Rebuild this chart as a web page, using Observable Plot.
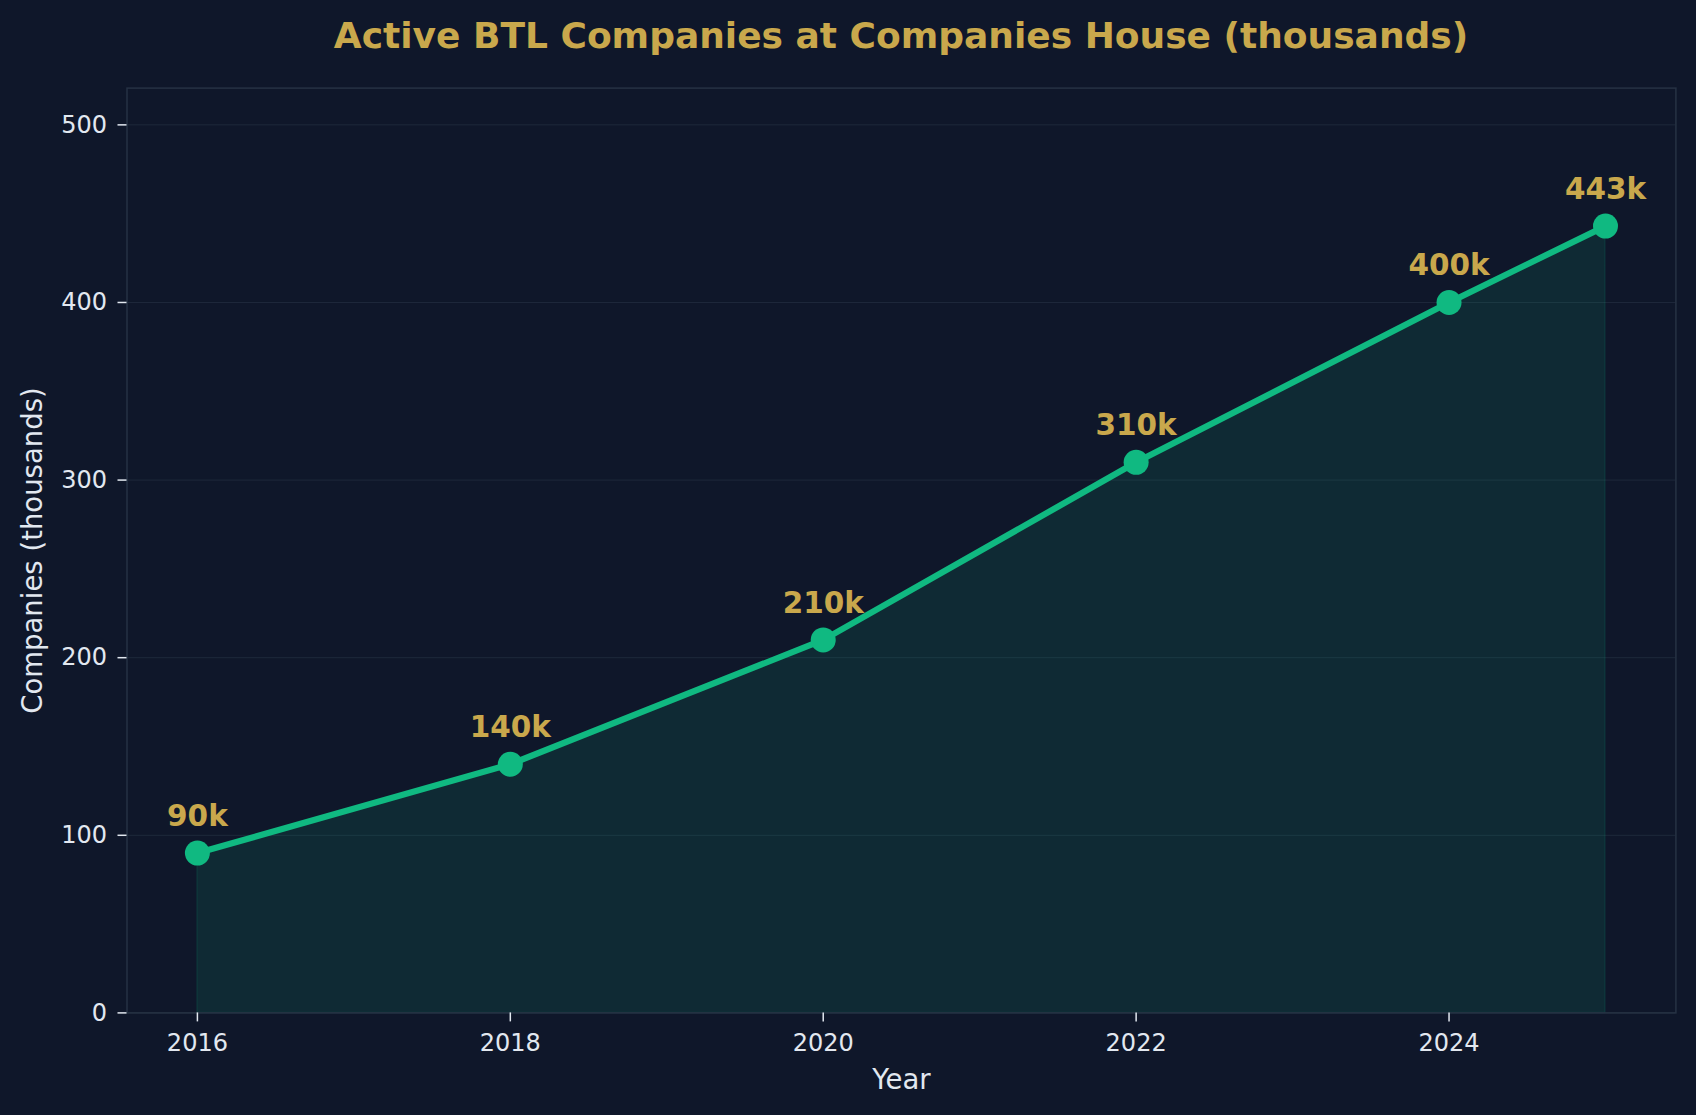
<!DOCTYPE html>
<html>
<head>
<meta charset="utf-8">
<script src="https://cdn.jsdelivr.net/npm/d3@7"></script>
<script src="https://cdn.jsdelivr.net/npm/@observablehq/plot@0.6"></script>
<style>
  html, body { margin: 0; padding: 0; background: #0f172a; width: 1696px; height: 1115px; overflow: hidden; }
  #wrap { position: relative; width: 1696px; height: 1115px; }
  #title { position: absolute; left: 126.5px; width: 1549px; top: 18px; text-align: center;
    font-family: "DejaVu Sans", sans-serif; font-weight: bold; font-size: 36px; line-height: 36px; color: #c9a84c; }
  #chart { position: absolute; left: 0; top: 0; }
</style>
</head>
<body>
<div id="wrap">
  <div id="chart"></div>
  <div id="title">Active BTL Companies at Companies House (thousands)</div>
</div>
<script>
const years = [2016, 2018, 2020, 2022, 2024, 2025];
const companies = [90, 140, 210, 310, 400, 443];
const xTicks = [2016, 2018, 2020, 2022, 2024];
const yTicks = [0, 100, 200, 300, 400, 500];
const xLabel = "Year";
const yLabel = "Companies (thousands)";

const data = years.map((y, i) => ({year: y, value: companies[i]}));

const green = "#10b981";
const gold = "#c9a84c";
const textColor = "#e2e8f0";

const chart = Plot.plot({
  width: 1696,
  height: 1115,
  marginTop: 87.6,
  marginBottom: 102.6,
  marginLeft: 126.5,
  marginRight: 20.6,
  x: {domain: [2015.55, 2025.45]},
  y: {domain: [0, 520.7]},
  style: {background: "transparent", color: textColor, fontFamily: "DejaVu Sans, sans-serif", fontSize: "24px"},
  marks: [
    Plot.gridY(yTicks, {stroke: "#1e293b", strokeOpacity: 1, strokeWidth: 1}),
    Plot.areaY(data, {x: "year", y: "value", fill: green, fillOpacity: 0.12, stroke: green, strokeOpacity: 0.12, strokeWidth: 1.5}),
    Plot.lineY(data, {x: "year", y: "value", stroke: green, strokeWidth: 6.2}),
    Plot.dot(data, {x: "year", y: "value", r: 12.5, fill: green, stroke: "none"}),
    Plot.text(data, {x: "year", y: "value", text: d => d.value + "k", dy: -36.5, fill: gold, fontWeight: "bold", fontSize: 29.5}),
    Plot.frame({stroke: "#263244", strokeWidth: 1.5}),
    Plot.axisX(xTicks, {tickFormat: d => String(d), tickSize: 9, tickPadding: 12, label: null, stroke: textColor, fill: textColor, strokeWidth: 1.5}),
    Plot.axisY(yTicks, {tickSize: 9, tickPadding: 11, label: null, stroke: textColor, fill: textColor, strokeWidth: 1.5}),
    Plot.text([xLabel], {frameAnchor: "bottom", lineAnchor: "middle", dy: 67, fontSize: 27.5, fill: textColor}),
    Plot.text([yLabel], {frameAnchor: "left", textAnchor: "middle", lineAnchor: "middle", dx: -93.5, rotate: -90, fontSize: 27.5, fill: textColor})
  ]
});
document.getElementById("chart").appendChild(chart);
</script>
</body>
</html>
